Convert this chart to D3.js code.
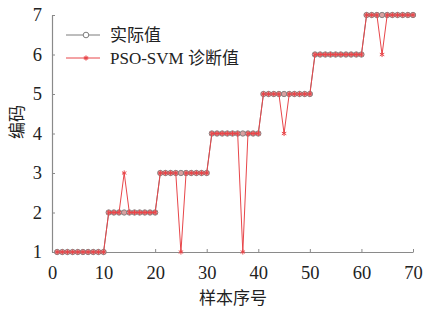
<!DOCTYPE html>
<html>
<head>
<meta charset="utf-8">
<script src="https://cdn.jsdelivr.net/npm/d3@7"></script>
<style>
  body { margin: 0; background: #fff; }
</style>
</head>
<body>
<svg width="423" height="310"></svg>
<script>
// actual fault code per sample (samples 1..70)
const actual = [
  1,1,1,1,1,1,1,1,1,1,
  2,2,2,2,2,2,2,2,2,2,
  3,3,3,3,3,3,3,3,3,3,
  4,4,4,4,4,4,4,4,4,4,
  5,5,5,5,5,5,5,5,5,5,
  6,6,6,6,6,6,6,6,6,6,
  7,7,7,7,7,7,7,7,7,7
];
// PSO-SVM diagnosis
const predicted = [
  1,1,1,1,1,1,1,1,1,1,
  2,2,2,3,2,2,2,2,2,2,
  3,3,3,3,1,3,3,3,3,3,
  4,4,4,4,4,4,1,4,4,4,
  5,5,5,5,4,5,5,5,5,5,
  6,6,6,6,6,6,6,6,6,6,
  7,7,7,6,7,7,7,7,7,7
];
const xTicks = [0, 10, 20, 30, 40, 50, 60, 70];
const yTicks = [1, 2, 3, 4, 5, 6, 7];
const legendLabels = ['实际值', 'PSO-SVM 诊断值'];

const font = '"Liberation Serif", "Times New Roman", "Noto Sans CJK SC", serif';
const svg = d3.select('svg');
const x = d3.scaleLinear().domain([0, 70]).range([52, 413]);
const y = d3.scaleLinear().domain([1, 7]).range([252, 15]);

const axisColor = '#8a8a8a';
const grey = '#7d7d7d';
const red = '#e8464a';

// axes (inner ticks)
const gx = svg.append('g').attr('transform', 'translate(0,252)')
  .call(d3.axisBottom(x).tickValues(xTicks).tickFormat(d3.format('d'))
    .tickSizeInner(-3).tickSizeOuter(0).tickPadding(11));
const gy = svg.append('g').attr('transform', 'translate(52,0)')
  .call(d3.axisLeft(y).tickValues(yTicks).tickFormat(d3.format('d'))
    .tickSizeInner(-3).tickSizeOuter(0).tickPadding(10));
[gx, gy].forEach(g => {
  g.attr('font-family', null).attr('font-size', null);
  g.select('.domain').attr('stroke', axisColor).attr('stroke-width', 1.2);
  g.selectAll('.tick line').attr('stroke', axisColor);
  g.selectAll('.tick text').style('font-size', '18.5px').style('font-family', font)
    .attr('fill', '#222');
});
gx.selectAll('.tick text').attr('dy', '0.85em');

const pts = actual.map((v, i) => ({ i: i + 1, a: v, p: predicted[i] }));

const line = key => d3.line().x(d => x(d.i)).y(d => y(d[key]));

// actual series
svg.append('path').datum(pts).attr('d', line('a'))
  .attr('fill', 'none').attr('stroke', grey).attr('stroke-width', 1);
svg.append('g').selectAll('circle').data(pts).join('circle')
  .attr('cx', d => x(d.i)).attr('cy', d => y(d.a)).attr('r', 2.7)
  .attr('fill', '#d9a0a0').attr('stroke', grey).attr('stroke-width', 0.9);

// predicted series
const star = d3.symbol().type(d3.symbolAsterisk).size(18);
svg.append('path').datum(pts).attr('d', line('p'))
  .attr('fill', 'none').attr('stroke', red).attr('stroke-width', 1);
svg.append('g').selectAll('path').data(pts).join('path')
  .attr('transform', d => `translate(${x(d.i)},${y(d.p)})`)
  .attr('d', star).attr('fill', 'none').attr('stroke', red).attr('stroke-width', 1);

// legend
const leg = svg.append('g');
const ly = [35, 58];
leg.append('line').attr('x1', 66).attr('x2', 100).attr('y1', ly[0]).attr('y2', ly[0])
  .attr('stroke', grey).attr('stroke-width', 1);
leg.append('circle').attr('cx', 86).attr('cy', ly[0]).attr('r', 2.8)
  .attr('fill', '#fff').attr('stroke', grey).attr('stroke-width', 1);
leg.append('line').attr('x1', 66).attr('x2', 100).attr('y1', ly[1]).attr('y2', ly[1])
  .attr('stroke', red).attr('stroke-width', 1);
leg.append('path').attr('transform', `translate(86,${ly[1]})`).attr('d', star)
  .attr('fill', 'none').attr('stroke', red).attr('stroke-width', 1.2);
legendLabels.forEach((t, k) => {
  leg.append('text').attr('x', 110).attr('y', ly[k]).attr('dy', '0.35em')
    .style('font-family', font).style('font-size', '17px').attr('fill', '#222').text(t);
});

// axis titles
svg.append('text').attr('x', 233).attr('y', 304).attr('text-anchor', 'middle')
  .style('font-family', font).style('font-size', '17px').attr('fill', '#222').text('样本序号');
svg.append('text').attr('transform', 'translate(17,122) rotate(-90)')
  .attr('text-anchor', 'middle').attr('dy', '0.35em')
  .style('font-family', font).style('font-size', '17px').attr('fill', '#222').text('编码');
</script>
</body>
</html>
